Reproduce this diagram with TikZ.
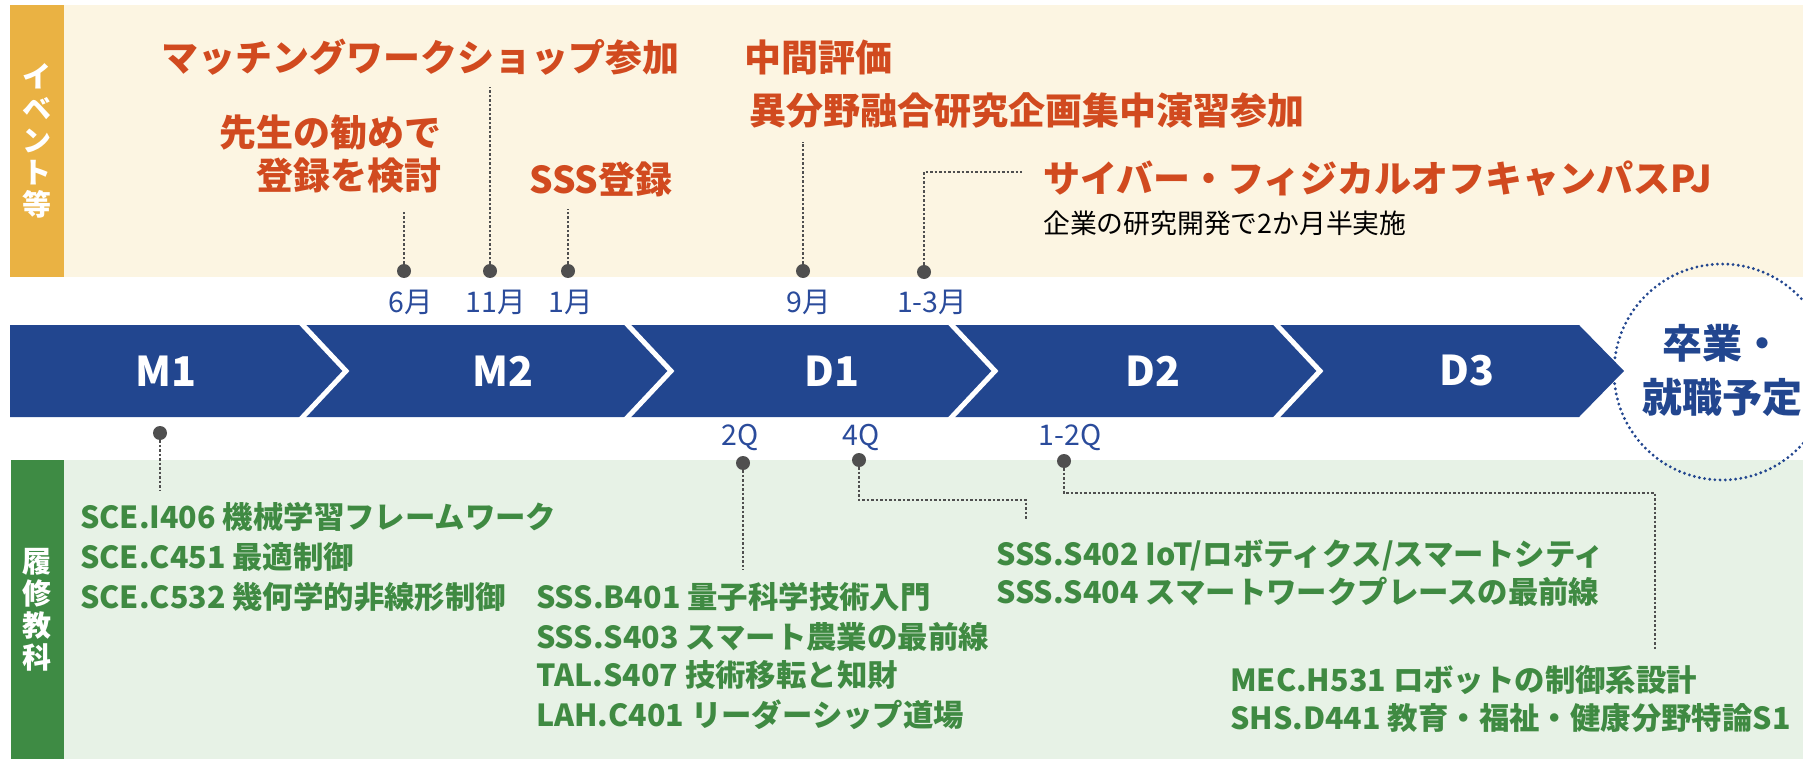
\documentclass[tikz,border=0pt]{standalone}
\usepackage{fontspec}
\setmainfont{Noto Sans CJK JP}
\definecolor{cream}{HTML}{FCF5E2}
\definecolor{goldstrip}{HTML}{EAB243}
\definecolor{redtext}{HTML}{D14A1F}
\definecolor{blueband}{HTML}{22468F}
\definecolor{bluetext}{HTML}{2A4B9B}
\definecolor{greenbg}{HTML}{E7F2E6}
\definecolor{greenstrip}{HTML}{3E8B44}
\definecolor{greentext}{HTML}{3F8A42}
\definecolor{dotgray}{HTML}{4F4F4F}
\tikzset{
  evtitle/.style={text=redtext, font=\fontsize{37}{40}\selectfont\bfseries, inner sep=0pt},
  evsub/.style={text=black, font=\fontsize{26.8}{30}\selectfont, inner sep=0pt},
  datelbl/.style={text=bluetext, font=\fontsize{28.5}{30}\selectfont, inner sep=0pt},
  phase/.style={text=white, font=\fontsize{41}{44}\selectfont\bfseries, inner sep=0pt},
  course/.style={text=greentext, font=\fontsize{30.4}{34}\selectfont\bfseries, inner sep=0pt, anchor=west},
  sidelbl/.style={text=white, font=\fontsize{29}{32}\selectfont\bfseries, inner sep=0pt, align=center},
  pin/.style={circle, fill=dotgray, minimum size=14pt, inner sep=0pt},
  leader/.style={draw=dotgray, line width=2.5pt, dash pattern=on 2.5pt off 2pt},
  sep/.style={draw=white, line width=5pt},
}
\begin{document}
\begin{tikzpicture}[x=1pt,y=-1pt]
\useasboundingbox (0,0) rectangle (1803,759);
\clip (0,0) rectangle (1803,759);
% panels
\fill[cream] (10,5) rectangle (1803,277);
\fill[goldstrip] (10,5) rectangle (64,277);
\fill[greenbg] (11,460) rectangle (1803,759);
\fill[greenstrip] (11,460) rectangle (64,759);
\node[sidelbl] (evside) at (37,141) {イ\\ベ\\ン\\ト\\等};
\node[sidelbl] (crside) at (37,610) {履\\修\\教\\科};
% band
\fill[blueband] (10,325) -- (1579,325) -- (1624,371) -- (1579,417) -- (10,417) -- cycle;
\foreach \sx in {300,625,949,1274}{
  \draw[sep] (\sx,322) -- (\sx+46,371) -- (\sx,420);
}
\node[phase] (m1) at (166,371) {M1};
\node[phase] (m2) at (503,371) {M2};
\node[phase] (d1) at (832,371) {D1};
\node[phase] (d2) at (1153,371) {D2};
\node[phase] (d3) at (1467,371) {D3};
% goal circle
\node[circle, minimum size=216pt, inner sep=0pt] (goal) at (1722,372) {};
\draw[blueband, line width=3.2pt, line cap=round, dash pattern=on 0pt off 5.2pt] (goal.center) circle (108);
\node[text=blueband, font=\fontsize{40}{54}\selectfont\bfseries, inner sep=0pt, align=center] (goaltxt) at (1722,370) {卒業・\\就職予定};
% event pins
\node[pin] (p6) at (404,271) {};
\node[pin] (p11) at (490,271) {};
\node[pin] (p1) at (568,271) {};
\node[pin] (p9) at (803,271) {};
\node[pin] (p13) at (924,272) {};
\node[datelbl] (l6) at (411,302) {6月};
\node[datelbl] (l11) at (496,302) {11月};
\node[datelbl] (l1) at (571,302) {1月};
\node[datelbl] (l9) at (809,302) {9月};
\node[datelbl] (l13) at (932,302) {1-3月};
% event titles
\node[evtitle, anchor=west] (ev1) at (161,57) {マッチングワークショップ参加};
\node[evtitle, anchor=east] (ev2a) at (442,132) {先生の勧めで};
\node[evtitle, anchor=east] (ev2b) at (442,176) {登録を検討};
\node[evtitle, anchor=west] (ev3) at (529,179) {SSS登録};
\node[evtitle, anchor=west] (ev4) at (744,57) {中間評価};
\node[evtitle, anchor=west] (ev5) at (749,110) {異分野融合研究企画集中演習参加};
\node[evtitle, anchor=west] (ev6) at (1043,179) {サイバー・フィジカルオフキャンパスPJ};
\node[evsub, anchor=west] (ev6s) at (1043,223) {企業の研究開発で2か月半実施};
% event leaders
\coordinate (e6) at (404,210);
\coordinate (e11) at (490,87);
\coordinate (e1) at (568,209);
\coordinate (e9) at (803,142);
\coordinate (e13) at (1022,172);
\draw[leader] (p6) -- (e6);
\draw[leader] (p11) -- (e11);
\draw[leader] (p1) -- (e1);
\draw[leader] (p9) -- (e9);
\draw[leader] (p13) |- (e13);
% course pins
\node[pin] (qm1) at (160,433) {};
\node[pin] (q2) at (743,463) {};
\node[pin] (q4) at (859,460) {};
\node[pin] (q12) at (1064,461) {};
\node[datelbl] (lq2) at (740,437) {2Q};
\node[datelbl] (lq4) at (861,437) {4Q};
\node[datelbl] (lq12) at (1070,437) {1-2Q};
\coordinate (cm1) at (160,490);
\coordinate (c2) at (743,570);
\coordinate (c4) at (1026,520);
\coordinate (c12) at (1655,650);
\draw[leader] (qm1) -- (cm1);
\draw[leader] (q2) -- (c2);
\draw[leader] (q4) |- (1026,500) -- (c4);
\draw[leader] (q12) |- (1655,493) -- (c12);
% courses
\node[course] (s1) at (80,517) {SCE.I406 機械学習フレームワーク};
\node[course] (s2) at (80,557) {SCE.C451 最適制御};
\node[course] (s3) at (80,597) {SCE.C532 幾何学的非線形制御};
\node[course] (s4) at (536,597) {SSS.B401 量子科学技術入門};
\node[course] (s5) at (536,637) {SSS.S403 スマート農業の最前線};
\node[course] (s6) at (536,675) {TAL.S407 技術移転と知財};
\node[course] (s7) at (536,715) {LAH.C401 リーダーシップ道場};
\node[course] (s8) at (996,555) {SSS.S402 IoT/ロボティクス/スマートシティ};
\node[course] (s9) at (996,592) {SSS.S404 スマートワークプレースの最前線};
\node[course] (s10) at (1230,680) {MEC.H531 ロボットの制御系設計};
\node[course] (s11) at (1230,718) {SHS.D441 教育・福祉・健康分野特論S1};
\end{tikzpicture}
\end{document}
